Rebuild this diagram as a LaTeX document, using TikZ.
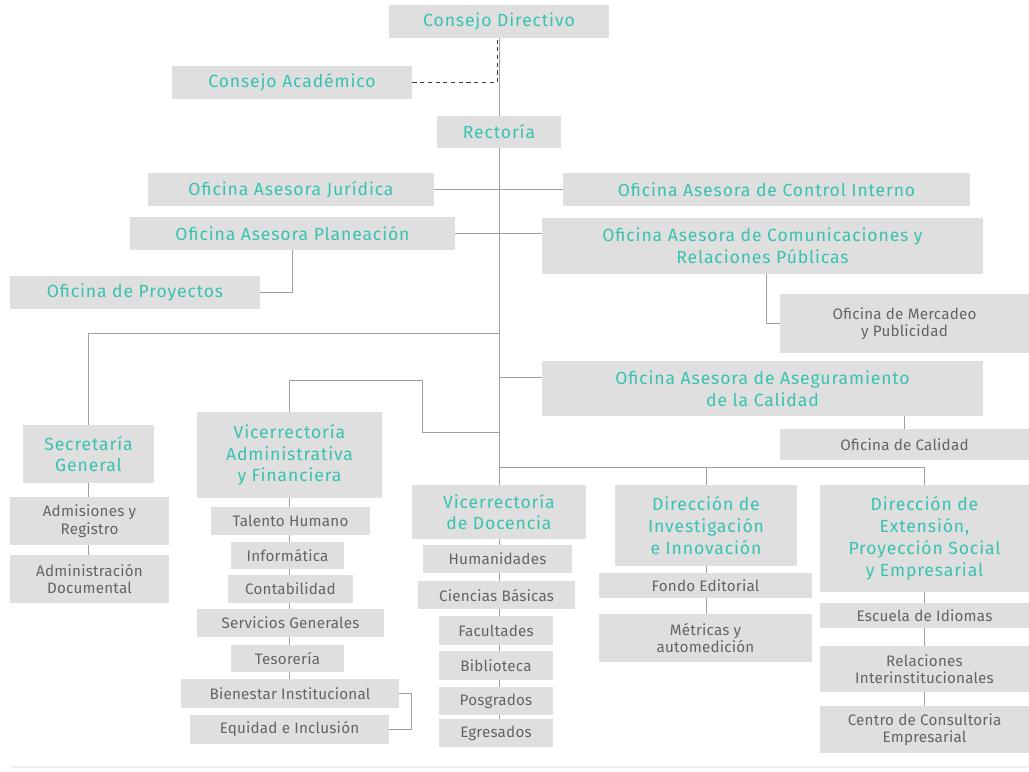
\documentclass[tikz,border=0pt]{standalone}
\usepackage{fontspec}
\setmainfont{Fira Sans}
\newfontfamily\headfont[LetterSpace=5]{Fira Sans}
\newfontfamily\lightfont[LetterSpace=1.5]{Fira Sans}
\usetikzlibrary{backgrounds}
\definecolor{tealtext}{RGB}{56,194,176}
\definecolor{boxgray}{RGB}{223,223,223}
\definecolor{subtext}{RGB}{100,100,100}
\definecolor{linegray}{RGB}{160,160,160}

\begin{document}
\begin{tikzpicture}[
    x=0.025cm, y=-0.025cm,
    box/.style={rectangle, fill=boxgray, inner sep=0pt, align=center},
    headbox/.style={box, text=tealtext, font=\headfont\fontsize{12.5}{15.5}\selectfont},
    subbox/.style={box, text=subtext, font=\lightfont\fontsize{10.8}{12.5}\selectfont},
    link/.style={draw=linegray, line width=0.6pt},
    dashlink/.style={draw=black!75, line width=0.6pt, dash pattern=on 3pt off 2.5pt}
]
\useasboundingbox (0,0) rectangle (1029,771);

% Top: councils and rectory
\node[headbox, minimum width=5.475cm, minimum height=0.825cm] (condir) at (499,21.5) {Consejo Directivo};
\node[headbox, minimum width=6cm, minimum height=0.825cm] (conacad) at (292,82.5) {Consejo Académico};
\node[headbox, minimum width=3.075cm, minimum height=0.8cm] (rector) at (499,132) {Rectoría};

% Advisory offices
\node[headbox, minimum width=7.15cm, minimum height=0.825cm] (juridica) at (291,189.5) {Oficina Asesora Jurídica};
\node[headbox, minimum width=10.175cm, minimum height=0.825cm] (control) at (766.5,189.5) {Oficina Asesora de Control Interno};
\node[headbox, minimum width=8.125cm, minimum height=0.825cm] (planea) at (292.5,233.5) {Oficina Asesora Planeación};
\node[headbox, minimum width=11.025cm, minimum height=1.4cm] (comunic) at (762.5,246) {Oficina Asesora de Comunicaciones y\\Relaciones Públicas};
\node[headbox, minimum width=6.25cm, minimum height=0.825cm] (proyect) at (135,292.5) {Oficina de Proyectos};
\node[subbox, minimum width=6.225cm, minimum height=1.475cm] (mercadeo) at (904.5,323.5) {Oficina de Mercadeo\\y Publicidad};
\node[headbox, minimum width=11.025cm, minimum height=1.375cm] (asegura) at (762.5,388.5) {Oficina Asesora de Aseguramiento\\de la Calidad};
\node[subbox, minimum width=6.225cm, minimum height=0.775cm] (calidad) at (904.5,444.5) {Oficina de Calidad};

% Secretaria General
\node[headbox, minimum width=3.275cm, minimum height=1.45cm] (secgen) at (88.5,454) {Secretaría\\General};
\node[subbox, minimum width=3.975cm, minimum height=1.2cm] (admis) at (89.5,521) {Admisiones y\\Registro};
\node[subbox, minimum width=3.975cm, minimum height=1.2cm] (admdoc) at (89.5,579) {Administración\\Documental};

% Vicerrectoria Administrativa y Financiera
\node[headbox, minimum width=4.625cm, minimum height=2.15cm] (vaf) at (289.5,455) {Vicerrectoría\\Administrativa\\y Financiera};
\node[subbox, minimum width=3.975cm, minimum height=0.7cm] (talento) at (290.5,521) {Talento Humano};
\node[subbox, minimum width=2.825cm, minimum height=0.675cm] (informat) at (287.5,555.5) {Informática};
\node[subbox, minimum width=3.125cm, minimum height=0.7cm] (contab) at (290.5,589) {Contabilidad};
\node[subbox, minimum width=4.675cm, minimum height=0.7cm] (servgen) at (290.5,623) {Servicios Generales};
\node[subbox, minimum width=2.825cm, minimum height=0.675cm] (tesor) at (287.5,658.5) {Tesorería};
\node[subbox, minimum width=5.45cm, minimum height=0.725cm] (bienes) at (290,693.5) {Bienestar Institucional};
\node[subbox, minimum width=4.975cm, minimum height=0.725cm] (equidad) at (289.5,729.5) {Equidad e Inclusión};

% Vicerrectoria de Docencia
\node[headbox, minimum width=4.35cm, minimum height=1.35cm] (docencia) at (499,512) {Vicerrectoría\\de Docencia};
\node[subbox, minimum width=3.725cm, minimum height=0.7cm] (humani) at (497.5,559) {Humanidades};
\node[subbox, minimum width=3.925cm, minimum height=0.7cm] (ciencias) at (496.5,595) {Ciencias Básicas};
\node[subbox, minimum width=2.85cm, minimum height=0.725cm] (facult) at (496,630.5) {Facultades};
\node[subbox, minimum width=2.85cm, minimum height=0.725cm] (biblio) at (496,665.5) {Biblioteca};
\node[subbox, minimum width=2.85cm, minimum height=0.7cm] (posgra) at (496,701) {Posgrados};
\node[subbox, minimum width=2.85cm, minimum height=0.7cm] (egresa) at (496,733) {Egresados};

% Investigacion
\node[headbox, minimum width=4.55cm, minimum height=2.025cm] (investig) at (706,525.5) {Dirección de\\Investigación\\e Innovación};
\node[subbox, minimum width=5.325cm, minimum height=0.625cm] (fondo) at (705.5,585.5) {Fondo Editorial};
\node[subbox, minimum width=5.325cm, minimum height=1.2cm] (metricas) at (705.5,638) {Métricas y\\automedición};

% Extension
\node[headbox, minimum width=5.225cm, minimum height=2.675cm] (extens) at (924.5,538.5) {Dirección de\\Extensión,\\Proyección Social\\y Empresarial};
\node[subbox, minimum width=5.225cm, minimum height=0.625cm] (idiomas) at (924.5,615.5) {Escuela de Idiomas};
\node[subbox, minimum width=5.225cm, minimum height=1.15cm] (relac) at (924.5,669) {Relaciones\\Interinstitucionales};
\node[subbox, minimum width=5.225cm, minimum height=1.175cm] (centro) at (924.5,729.5) {Centro de Consultoria\\Empresarial};

% Junctions on the main line
\coordinate (secj) at (499,333);
\coordinate (asegj) at (499,377);
\coordinate (vafj) at (499,432);
\coordinate (botj) at (499,467);

% Connectors
\begin{scope}[on background layer]
\draw[link] (condir.south) -- (rector.north);
\draw[link] (rector.south) -- (docencia.north);
\draw[link] (juridica.east) -- (control.west);
\draw[link] (planea.east) -- (planea.east -| comunic.west);
\draw[link] (planea.south) |- (proyect.east);
\draw[link] ([xshift=2.5pt]comunic.south) |- (mercadeo.west);
\draw[link] (secj) -| (secgen.north);
\draw[link] (secgen.south) -- (secgen.south |- admdoc.north);
\draw[link] (asegj) -- (asegj -| asegura.west);
\draw[link] (asegura.south -| calidad.north) -- (calidad.north);
\draw[link] (vaf.north) |- (422,380) |- (vafj);
\draw[link] (vaf.south) -- (vaf.south |- bienes.north);
\draw[link] (bienes.east) -- ++(12,0) |- (equidad.east);
\draw[link] (botj) -| (extens.north);
\draw[link] (investig.north |- botj) -- (investig.north);
\draw[link] (docencia.south) -- (docencia.south |- egresa.north);
\draw[link] (investig.south) -- (investig.south |- metricas.north);
\draw[link] (extens.south) -- (extens.south |- centro.north);
\draw[dashlink] (conacad.east) -| ([xshift=-1.2pt]condir.south);
\end{scope}

\draw[black!6, line width=0.8pt] (10,767) -- (1029,767);

\end{tikzpicture}
\end{document}
